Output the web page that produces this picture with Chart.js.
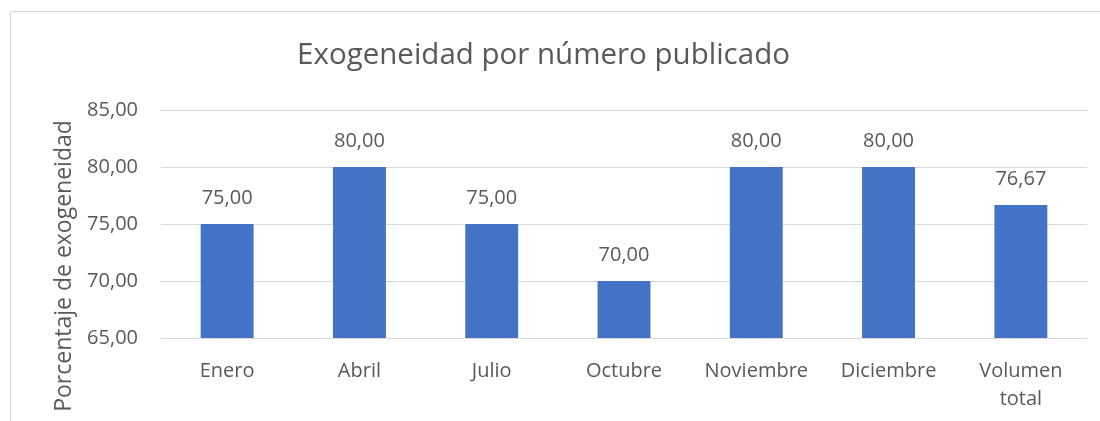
<!DOCTYPE html>
<html>
<head>
<meta charset="utf-8">
<script src="https://cdn.jsdelivr.net/npm/chart.js@4"></script>
<style>
  html, body { margin: 0; padding: 0; background: #fff; }
  #wrap { position: relative; width: 1100px; height: 421px; }
</style>
</head>
<body>
<div id="wrap"><canvas id="exoChart" width="1100" height="421"></canvas></div>
<script>
const categories = ['Enero', 'Abril', 'Julio', 'Octubre', 'Noviembre', 'Diciembre', ['Volumen', 'total']];
const values = [75, 80, 75, 70, 80, 80, 76.67];
const yTicks = [65, 70, 75, 80, 85];

const FONT = "'Open Sans', Lato, sans-serif";
const GREY = '#595959';

function fmt(v) {
    return v.toFixed(2).replace('.', ',');
}

// marco del gráfico + titulo del eje y + etiquetas de datos
const extras = {
    id: 'extras',
    beforeDraw(chart) {
        const ctx = chart.ctx;
        ctx.save();
        ctx.strokeStyle = '#d9d9d9';
        ctx.lineWidth = 1;
        ctx.beginPath();
        ctx.moveTo(10.5, 421);
        ctx.lineTo(10.5, 11.5);
        ctx.lineTo(1100, 11.5);
        ctx.stroke();
        ctx.restore();
    },
    afterDatasetsDraw(chart) {
        const ctx = chart.ctx;
        ctx.save();
        ctx.fillStyle = GREY;
        ctx.font = '20px ' + FONT;
        ctx.textAlign = 'center';
        ctx.textBaseline = 'middle';
        chart.getDatasetMeta(0).data.forEach((bar, i) => {
            ctx.fillText(fmt(values[i]), bar.x, bar.y - 26);
        });
        // titulo eje y
        ctx.font = '23px ' + FONT;
        ctx.translate(64, 266);
        ctx.rotate(-Math.PI / 2);
        ctx.fillText('Porcentaje de exogeneidad', 0, 0);
        ctx.restore();
    }
};

new Chart(document.getElementById('exoChart'), {
    type: 'bar',
    data: {
        labels: categories,
        datasets: [{
            data: values,
            backgroundColor: '#4472C4',
            borderWidth: 0,
            categoryPercentage: 1,
            barPercentage: 0.4
        }]
    },
    plugins: [extras],
    options: {
        responsive: false,
        animation: false,
        layout: { padding: { top: 0, left: 0, right: 13, bottom: 0 } },
        plugins: {
            legend: { display: false },
            tooltip: { enabled: false },
            title: {
                display: true,
                text: 'Exogeneidad por número publicado',
                color: GREY,
                font: { family: FONT, size: 29.5, weight: 'normal', lineHeight: 1.2 },
                padding: { top: 38, bottom: 36.6 }
            }
        },
        scales: {
            x: {
                grid: { display: false },
                border: { display: false },
                ticks: {
                    color: GREY,
                    padding: 11,
                    maxRotation: 0,
                    autoSkip: false,
                    font: { family: FONT, size: 20, lineHeight: 1.4 }
                },
                afterFit(scale) { scale.height = 83; }
            },
            y: {
                min: yTicks[0],
                max: yTicks[yTicks.length - 1],
                grid: { color: '#d9d9d9', lineWidth: 1, drawTicks: false },
                border: { display: false },
                afterBuildTicks(scale) { scale.ticks = yTicks.map(v => ({ value: v })); },
                ticks: {
                    color: GREY,
                    padding: 23,
                    font: { family: FONT, size: 20 },
                    callback: v => fmt(v)
                },
                afterFit(scale) { scale.width = 161; }
            }
        }
    }
});
</script>
</body>
</html>
